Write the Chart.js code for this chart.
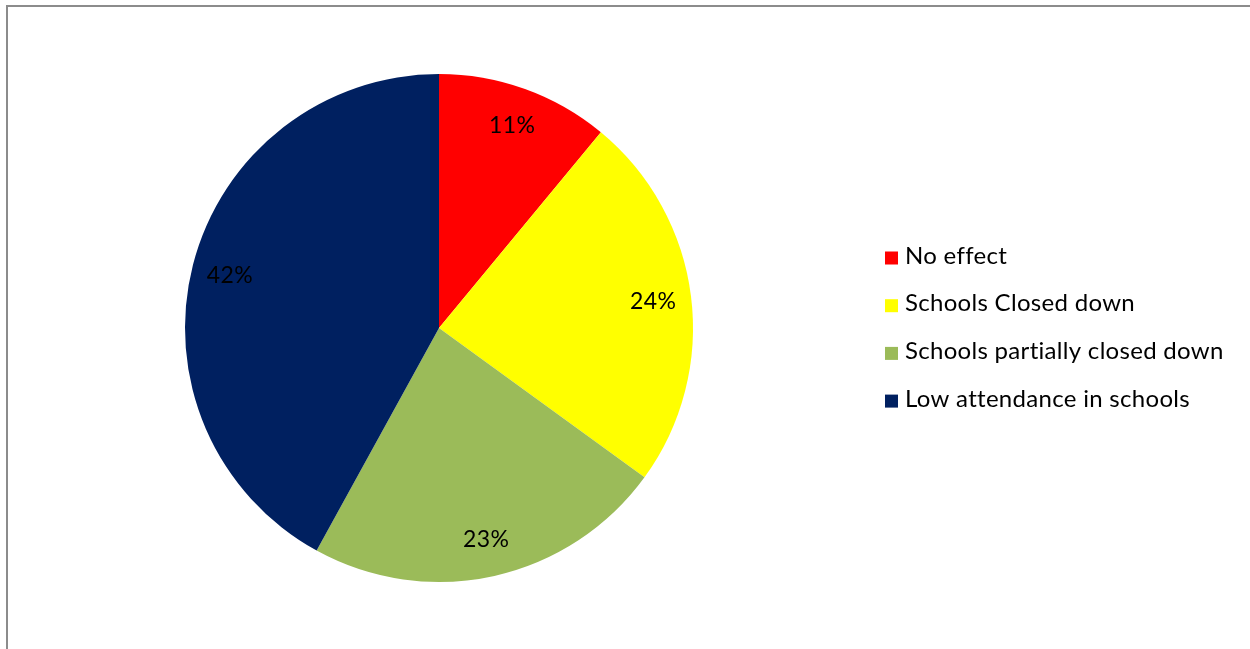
<!DOCTYPE html>
<html>
<head>
<meta charset="utf-8">
<script src="https://cdn.jsdelivr.net/npm/chart.js@4"></script>
<style>
  html, body { margin: 0; padding: 0; background: #fff; overflow: hidden; }
  #frame {
    position: absolute; left: 6px; top: 5px;
    width: 1300px; height: 700px;
    border-left: 2px solid #8c8c8c; border-top: 2px solid #8c8c8c;
  }
  #wrap { position: absolute; left: 0; top: 0; width: 1250px; height: 649px; }
</style>
</head>
<body>
<div id="frame"></div>
<div id="wrap"><canvas id="pieChart" width="1250" height="649"></canvas></div>
<script>
// effect on schools - pie chart
const categories = ["No effect", "Schools Closed down", "Schools partially closed down", "Low attendance in schools"];
const shares = [11, 24, 23, 42];
const sliceColors = ["#ff0000", "#ffff00", "#9bbb59", "#002060"];

const FONT = "Lato, 'Noto Sans', sans-serif";

// percent labels inside the slices
const sliceLabels = {
  id: "sliceLabels",
  afterDatasetsDraw(chart) {
    const ctx = chart.ctx;
    const meta = chart.getDatasetMeta(0);
    ctx.save();
    ctx.font = "23px " + FONT;
    ctx.letterSpacing = "0.4px";
    ctx.fillStyle = "#000";
    ctx.textAlign = "center";
    ctx.textBaseline = "middle";
    meta.data.forEach((arc, i) => {
      const mid = (arc.startAngle + arc.endAngle) / 2;
      const r = arc.outerRadius * 0.85;
      ctx.fillText(shares[i] + "%", arc.x + Math.cos(mid) * r, arc.y + Math.sin(mid) * r + 1);
    });
    ctx.restore();
  }
};

// legend on the right, square markers
const sideLegend = {
  id: "sideLegend",
  afterDraw(chart) {
    const ctx = chart.ctx;
    ctx.save();
    ctx.font = "24px " + FONT;
    ctx.letterSpacing = "0.3px";
    ctx.textBaseline = "middle";
    categories.forEach((name, i) => {
      const y = 258 + i * 47.7;
      ctx.fillStyle = sliceColors[i];
      ctx.fillRect(885, y - 6.5, 13, 13);
      ctx.fillStyle = "#000";
      ctx.fillText(name, 905, y - 2);
    });
    ctx.restore();
  }
};

document.addEventListener("DOMContentLoaded", () => {
  const ctx = document.getElementById("pieChart").getContext("2d");
  new Chart(ctx, {
    type: "pie",
    data: {
      labels: categories,
      datasets: [{
        data: shares,
        backgroundColor: sliceColors,
        borderWidth: 0
      }]
    },
    options: {
      responsive: false,
      animation: false,
      layout: { padding: { left: 185, top: 74, right: 557, bottom: 67 } },
      plugins: {
        legend: { display: false },
        tooltip: { enabled: false }
      }
    },
    plugins: [sliceLabels, sideLegend]
  });
});
</script>
</body>
</html>
